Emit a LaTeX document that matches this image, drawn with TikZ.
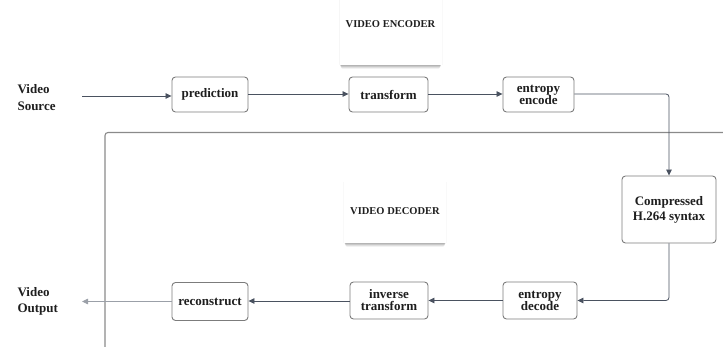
\documentclass[tikz,border=0pt]{standalone}
\usepackage{fontspec}
\setmainfont{Liberation Serif}
\usetikzlibrary{arrows.meta}
\definecolor{linkc}{HTML}{4A5260}
\definecolor{boxc}{HTML}{7C7C7C}
\definecolor{framec}{HTML}{8A8A8A}
\definecolor{txtc}{HTML}{1E1E1E}
\tikzset{
  stagebox/.style={draw=boxc, line width=0.9pt, rounded corners=3.5pt, fill=white,
    align=center, inner sep=2pt, font=\fontsize{13}{14}\selectfont\bfseries, text=txtc},
  sidetext/.style={align=left, anchor=west, font=\fontsize{13}{16.5}\selectfont\bfseries, text=txtc},
  link/.style={draw=linkc, line width=0.8pt, -{Triangle[length=6pt,width=5.5pt]}},
  titletext/.style={font=\fontsize{10.5}{12}\selectfont\bfseries, text=txtc},
}
\begin{document}
\begin{tikzpicture}[x=1pt,y=-1pt]
\useasboundingbox (0,0) rectangle (723,347);

% decoder frame (only its top-left part is in view)
\draw[framec, line width=1.1pt, rounded corners=3pt] (105,347) -- (105,132.5) -- (724,132.5);

% title cards with a soft shadow along the lower edge
\foreach \cx/\ya/\yb in {390.5/-14/65, 395/182/243}{
  \foreach \d/\s/\o in {4.0/-1.5/0.05, 3.0/-1.0/0.08, 2.0/-0.6/0.10, 1.0/-0.3/0.10}{
    \fill[black, opacity=\o, rounded corners=2pt] (\cx-51-\s,\ya+\d) rectangle (\cx+51+\s,\yb+\d);
  }
  \fill[white] (\cx-51,\ya) rectangle (\cx+51,\yb);
  \fill[black, opacity=0.025] (\cx-51.6,\ya) rectangle (\cx-51,\yb);
  \fill[black, opacity=0.025] (\cx+51,\ya) rectangle (\cx+51.6,\yb);
}
\node[titletext] (enctitle) at (390.5,24) {VIDEO ENCODER};
\node[titletext] (dectitle) at (395,211) {VIDEO DECODER};

% encoder row
\node[sidetext] (src) at (14,97.5) {Video\\Source};
\node[stagebox, minimum width=76pt, minimum height=35pt] (pred) at (210,94.5) {prediction};
\node[stagebox, minimum width=79pt, minimum height=35pt] (trans) at (388.5,94.5) {transform};
\node[stagebox, minimum width=71pt, minimum height=35pt] (enc) at (538.5,94.5) {entropy\\[-2pt]encode};

% compressed stream
\node[stagebox, minimum width=94pt, minimum height=67pt] (comp) at (669,209.5) {Compressed\\[1pt]H.264 syntax};

% decoder row
\node[stagebox, minimum width=74pt, minimum height=37pt] (dec) at (540,300.5) {entropy\\[-2pt]decode};
\node[stagebox, minimum width=78pt, minimum height=37pt] (inv) at (389,300.5) {inverse\\[-2pt]transform};
\node[stagebox, minimum width=76pt, minimum height=38pt] (rec) at (210,301.5) {reconstruct};
\node[sidetext] (out) at (14,301.5) {Video\\Output};

\coordinate (srcend) at (82,96);
\coordinate (outend) at (82,301.5);

% connectors
\draw[link] (srcend) -- (srcend -| pred.west);
\draw[link] (pred.east |- 0,94) -- (trans.west |- 0,94);
\draw[link] (trans.east |- 0,94) -- (enc.west |- 0,94);
\draw[link, rounded corners=3pt] (enc.east |- 0,94) -| (comp.north);
\draw[link, rounded corners=3pt] (comp.south) |- (dec.east |- 0,300.5);
\draw[link] (dec.west) -- (inv.east);
\draw[link] (inv.west |- 0,301) -- (rec.east |- 0,301);
\draw[link, draw=linkc!55] (rec.west) -- (outend);
\end{tikzpicture}
\end{document}
